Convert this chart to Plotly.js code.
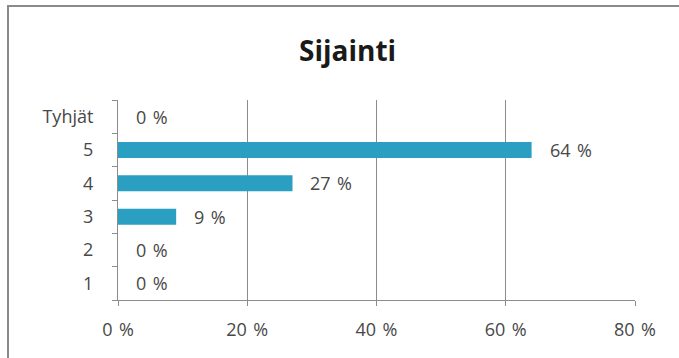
<!DOCTYPE html>
<html>
<head>
<meta charset="utf-8">
<script src="https://cdn.plot.ly/plotly-3.0.1.min.js"></script>
<style>
html,body{margin:0;padding:0;background:#fff;}
#wrap{position:absolute;left:0;top:0;width:679px;height:358px;}
#frame{position:absolute;left:7px;top:5px;width:672px;height:353px;border-top:2px solid #8a8a8a;border-left:2px solid #8a8a8a;box-sizing:border-box;pointer-events:none;}
#chart{position:absolute;left:0;top:0;width:679px;height:358px;}
</style>
</head>
<body>
<div id="wrap"><div id="chart"></div><div id="frame"></div></div>
<script>
const categories = ['1', '2', '3', '4', '5', 'Tyhjät'];
const values = [0, 0, 9, 27, 64, 0];
const xTicks = [0, 20, 40, 60, 80];
const title = 'Sijainti';

const fontFam = 'Open Sans, Noto Sans, sans-serif';
const textColor = '#484848';
const pctSep = '\u00a0\u200a';

const bars = {
  type: 'bar',
  orientation: 'h',
  x: values,
  y: categories,
  width: 0.48,
  marker: {color: '#2a9fc1', line: {width: 0}},
  hoverinfo: 'skip'
};

const annotations = values.map((v, i) => ({
  x: v, y: i, xref: 'x', yref: 'y',
  text: v + pctSep + '%', showarrow: false, xanchor: 'left', yanchor: 'middle',
  xshift: 16, font: {family: fontFam, size: 18, color: textColor}
}));

const layout = {
  width: 679, height: 358,
  margin: {l: 118, r: 44, t: 100, b: 58},
  paper_bgcolor: '#fff', plot_bgcolor: '#fff',
  showlegend: false,
  title: {text: '<b>' + title + '</b>', x: 0.512, xanchor: 'center', y: 0.858, yanchor: 'middle',
          font: {family: fontFam, size: 28, color: '#1a1a1a'}},
  xaxis: {
    range: [0, 80], tickvals: xTicks, ticktext: xTicks.map(t => t + pctSep + '%'),
    showgrid: true, gridcolor: '#8c8c8c', gridwidth: 1,
    zeroline: false, showline: true, linecolor: '#8c8c8c', linewidth: 1,
    ticks: 'outside', ticklen: 5, tickcolor: '#8c8c8c',
    tickfont: {family: fontFam, size: 18, color: textColor},
    ticklabelstandoff: 8,
    fixedrange: true
  },
  yaxis: {
    type: 'category', categoryorder: 'array', categoryarray: categories,
    showgrid: false, zeroline: false, showline: true, linecolor: '#8c8c8c', linewidth: 1,
    ticks: 'outside', tickson: 'boundaries', ticklen: 5, tickcolor: '#8c8c8c',
    tickfont: {family: fontFam, size: 18, color: textColor},
    ticklabelstandoff: 20,
    fixedrange: true
  },
  annotations: annotations
};

Plotly.newPlot('chart', [bars], layout, {displayModeBar: false, staticPlot: true});
</script>
</body>
</html>
